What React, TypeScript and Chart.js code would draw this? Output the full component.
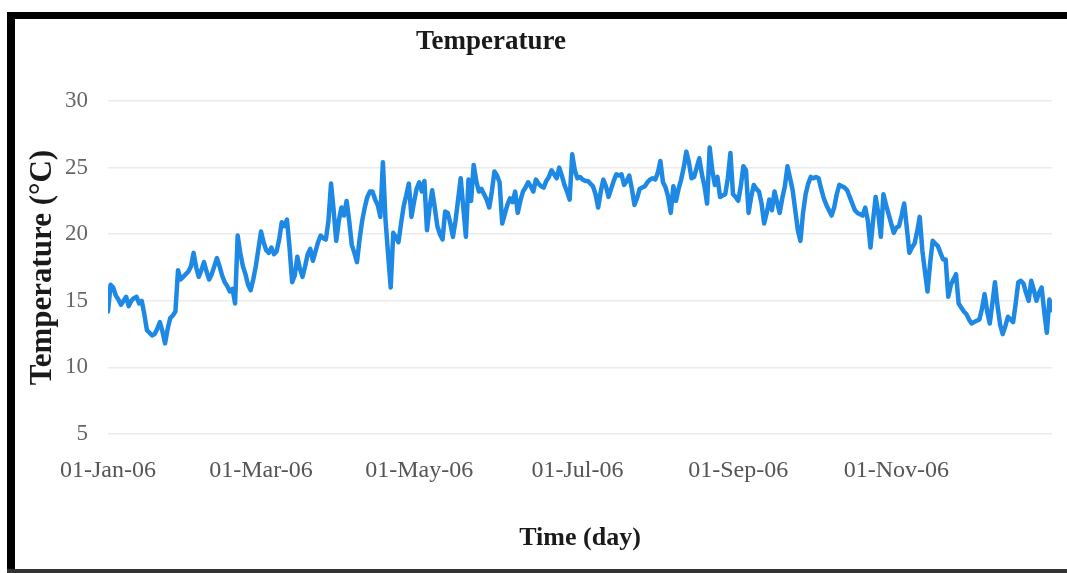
import React, { useEffect, useRef } from "react";
import { Chart, registerables } from "chart.js";

Chart.register(...registerables);

// Daily temperature values (°C) for 2006, month by month
const jan = [14.2, 16.2, 16.0, 15.4, 15.1, 14.7, 15.0, 15.3, 14.6, 15.0, 15.2, 15.3, 14.8, 15.0, 14.0, 12.8, 12.6, 12.4, 12.5, 12.9, 13.4, 12.7, 11.8, 12.9, 13.7, 13.9, 14.2, 17.3, 16.6, 16.8, 17.0];
const feb = [17.2, 17.6, 18.6, 17.5, 16.8, 17.3, 17.9, 17.2, 16.6, 17.0, 17.6, 18.2, 17.6, 16.9, 16.4, 16.1, 15.7, 15.9, 14.8, 19.9, 18.6, 17.6, 17.0, 16.2, 15.8, 16.6, 17.6, 18.9];
const mar = [20.2, 19.4, 18.8, 18.6, 19.0, 18.5, 18.7, 19.6, 20.9, 20.6, 21.1, 19.0, 16.4, 16.9, 18.3, 17.4, 16.8, 17.6, 18.5, 18.9, 18.0, 18.7, 19.4, 19.9, 19.7, 19.6, 21.0, 23.8, 21.8, 19.5, 21.0];
const apr = [22.0, 21.4, 22.5, 21.0, 19.2, 18.6, 17.9, 19.6, 21.0, 22.0, 22.8, 23.2, 23.2, 22.6, 22.2, 21.3, 25.4, 21.1, 18.5, 16.0, 20.1, 19.8, 19.4, 20.8, 22.1, 22.9, 23.8, 21.3, 22.4, 23.4];
const may = [23.9, 23.2, 24.0, 20.3, 22.0, 23.3, 22.0, 20.6, 20.0, 19.6, 21.7, 21.6, 20.8, 19.8, 21.0, 22.6, 24.2, 22.0, 19.8, 24.1, 22.5, 25.2, 24.0, 23.2, 23.4, 23.0, 22.6, 22.0, 23.2, 24.7, 24.4];
const jun = [23.9, 20.8, 21.5, 22.2, 22.7, 22.4, 23.2, 21.6, 22.5, 23.2, 23.5, 23.9, 23.6, 23.2, 24.1, 23.8, 23.6, 23.5, 24.0, 24.3, 24.8, 24.5, 24.2, 25.0, 24.4, 23.7, 23.2, 22.6, 26.0, 24.8];
const jul = [24.2, 24.3, 24.1, 24.0, 24.0, 23.8, 23.6, 23.0, 22.0, 23.2, 24.1, 23.6, 22.8, 23.4, 24.0, 24.5, 24.4, 24.5, 23.7, 24.0, 24.4, 23.4, 22.2, 22.7, 23.4, 23.5, 23.6, 23.9, 24.1, 24.2, 24.1];
const aug = [24.6, 25.5, 23.9, 23.5, 22.8, 21.6, 23.6, 22.5, 23.4, 24.1, 25.0, 26.2, 25.4, 24.2, 24.3, 25.0, 25.7, 24.5, 23.6, 22.3, 26.5, 24.8, 23.7, 24.3, 22.8, 22.9, 23.0, 24.2, 26.1, 23.0, 22.8];
const sep = [22.5, 23.6, 25.1, 24.8, 21.6, 22.8, 23.7, 23.4, 23.2, 22.3, 20.8, 21.6, 22.6, 21.8, 23.2, 22.4, 21.6, 22.7, 23.6, 25.1, 24.2, 23.3, 21.8, 20.3, 19.5, 21.6, 23.0, 23.8, 24.3, 24.2];
const oct = [24.3, 24.2, 23.4, 22.7, 22.2, 21.8, 21.4, 22.0, 23.0, 23.7, 23.6, 23.5, 23.3, 22.8, 22.3, 21.8, 21.6, 21.5, 21.4, 22.0, 21.0, 19.0, 21.0, 22.8, 21.6, 19.8, 23.0, 22.2, 21.5, 20.8, 20.1];
const nov = [20.5, 20.6, 21.4, 22.3, 20.5, 18.6, 19.0, 19.3, 20.2, 21.3, 18.8, 17.2, 15.7, 17.8, 19.5, 19.3, 19.1, 18.6, 18.1, 18.1, 15.3, 16.2, 16.6, 17.0, 14.8, 14.5, 14.2, 14.0, 13.6, 13.3];
const dec = [13.4, 13.5, 13.6, 14.4, 15.5, 14.2, 13.3, 14.8, 16.4, 14.6, 13.2, 12.5, 13.1, 13.8, 13.6, 13.4, 14.8, 16.4, 16.5, 16.3, 15.6, 15.0, 16.5, 15.8, 15.0, 15.6, 16.0, 14.2, 12.6, 15.1, 14.3];

const temperatures = [...jan, ...feb, ...mar, ...apr, ...may, ...jun, ...jul, ...aug, ...sep, ...oct, ...nov, ...dec];

// X tick positions (day of year) and labels
const tickDays = [0, 59, 120, 181, 243, 304];
const tickLabels = ["01-Jan-06", "01-Mar-06", "01-May-06", "01-Jul-06", "01-Sep-06", "01-Nov-06"];
const yTicks = [5, 10, 15, 20, 25, 30];

const titleText = "Temperature";
const xTitle = "Time (day)";
const yTitle = "Temperature (°C)";

const SERIF = "'Liberation Serif', 'Times New Roman', serif";

export default function App() {
  const canvasRef = useRef<HTMLCanvasElement | null>(null);

  useEffect(() => {
    document.body.style.margin = "0";
    const canvas = canvasRef.current;
    if (!canvas) return;

    const titlePlugin = {
      id: "customTitle",
      afterDraw(chart: any) {
        const ctx = chart.ctx;
        ctx.save();
        ctx.font = `bold 27px ${SERIF}`;
        ctx.fillStyle = "#1a1a1a";
        ctx.textAlign = "center";
        ctx.textBaseline = "middle";
        ctx.fillText(titleText, 476, 23);
        ctx.restore();
      },
    };

    const chart = new Chart(canvas, {
      type: "line",
      data: {
        datasets: [
          {
            data: temperatures.map((v, i) => ({ x: i, y: v })),
            borderColor: "#1e88e5",
            backgroundColor: "#1e88e5",
            borderWidth: 4.5,
            borderJoinStyle: "round",
            borderCapStyle: "round",
            pointRadius: 0,
            tension: 0,
            fill: false,
          },
        ],
      },
      options: {
        animation: false,
        responsive: false,
        layout: { padding: { left: 0, right: 15, top: 82, bottom: 0 } },
        plugins: {
          legend: { display: false },
          tooltip: { enabled: false },
          title: { display: false },
        },
        scales: {
          x: {
            type: "linear",
            min: 0,
            max: 364,
            afterBuildTicks(scale: any) {
              scale.ticks = tickDays.map((d) => ({ value: d }));
            },
            afterFit(scale: any) {
              scale.height = 135;
            },
            grid: { display: false, drawTicks: false },
            border: { display: false },
            ticks: {
              padding: 22,
              maxRotation: 0,
              autoSkip: false,
              color: "#555",
              font: { family: SERIF, size: 24 },
              callback: (value: any) => {
                const idx = tickDays.indexOf(Number(value));
                return idx >= 0 ? tickLabels[idx] : "";
              },
            },
            title: {
              display: true,
              text: xTitle,
              color: "#1a1a1a",
              font: { family: SERIF, size: 26, weight: "bold", lineHeight: 1.2 },
              padding: { top: 0, bottom: 15 },
            },
          },
          y: {
            min: 5,
            max: 30,
            afterBuildTicks(scale: any) {
              scale.ticks = yTicks.map((v) => ({ value: v }));
            },
            afterFit(scale: any) {
              scale.width = 93;
            },
            grid: { color: "#ebebeb", lineWidth: 1.5, drawTicks: false },
            border: { display: false },
            ticks: {
              padding: 20,
              color: "#666",
              font: { family: SERIF, size: 23 },
            },
            title: {
              display: true,
              text: yTitle,
              color: "#1a1a1a",
              font: { family: SERIF, size: 31, weight: "bold", lineHeight: 1.2 },
              padding: { top: 9, bottom: 0 },
            },
          },
        },
      },
      plugins: [titlePlugin],
    });

    return () => chart.destroy();
  }, []);

  return (
    <div style={{ position: "fixed", left: 0, top: 0, width: 1067, height: 573, background: "#fff", overflow: "hidden" }}>
      <div style={{ position: "absolute", left: 7, top: 12, width: 1060, height: 7, background: "#000" }} />
      <div style={{ position: "absolute", left: 7, top: 12, width: 8, height: 561, background: "#000" }} />
      <div style={{ position: "absolute", left: 7, top: 569, width: 1060, height: 4, background: "#333" }} />
      <canvas
        ref={canvasRef}
        width={1052}
        height={550}
        style={{ position: "absolute", left: 15, top: 19, width: 1052, height: 550 }}
      />
    </div>
  );
}
